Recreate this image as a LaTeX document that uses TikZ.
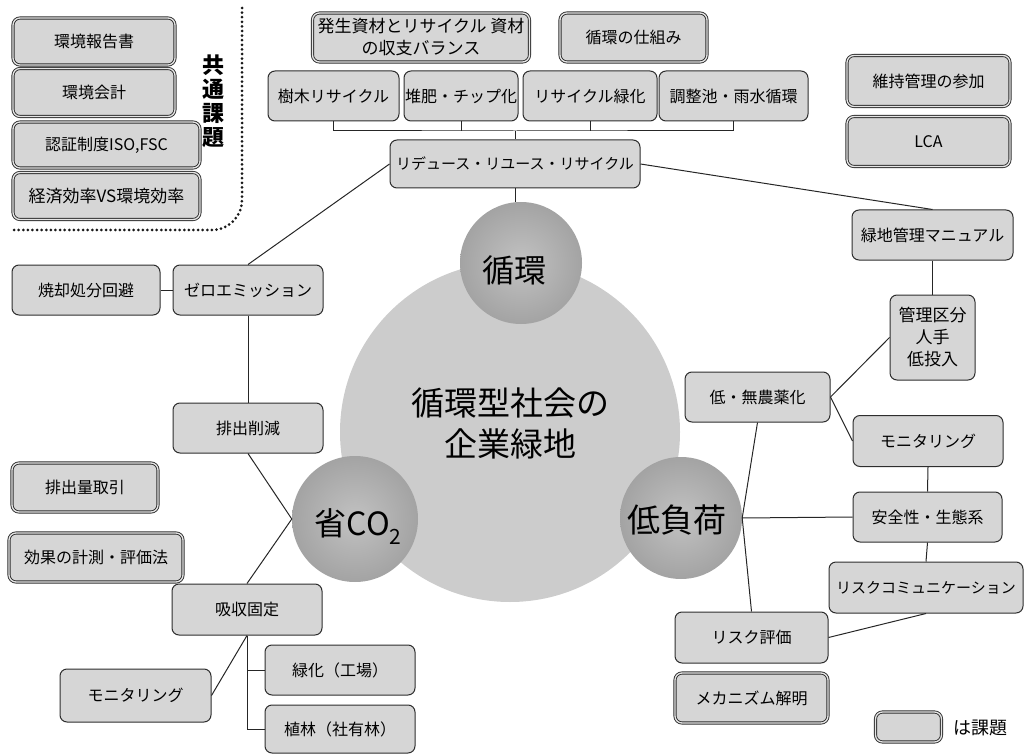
\documentclass[tikz,border=0pt]{standalone}
\usepackage{fontspec}
\setmainfont{Noto Sans CJK JP}
\begin{document}
\begin{tikzpicture}[x=1pt,y=-1pt,
  box/.style={draw=black!82, line width=1pt, fill=black!16, rounded corners=7pt, inner sep=1pt, align=center, font=\fontsize{16}{20}\selectfont},
  issue/.style={box, double=black!10, double distance=1.3pt, line width=0.9pt},
  conn/.style={draw=black!85, line width=1pt},
  blob/.style={circle, fill=black!20, inner sep=0pt},
  ball/.style={circle, inner sep=0pt, shade, inner color=black!24, outer color=black!36, font=\fontsize{32}{36}\selectfont}
]
\useasboundingbox (0,0) rectangle (1028,754);

% central blob and circles
\node[blob, minimum size=340pt] (core) at (510,432) {};
\fill[black!20] (521,263) -- (355,519) -- (681,518) -- cycle;
\node[ball, minimum size=122pt] (cyc) at (521,263) {};
\node[ball, minimum size=126pt] (co2) at (355,519) {};
\node[ball, minimum size=122pt] (low) at (681,518) {};
\node[font=\fontsize{33}{41}\selectfont, align=center] (title) at (510,423) {循環型社会の\\企業緑地};
\node[font=\fontsize{32}{36}\selectfont] (cyct) at (514,270) {循環};
\node[font=\fontsize{32}{36}\selectfont] (co2t) at (358,527) {省CO\raisebox{-9pt}{\fontsize{21}{21}\selectfont 2}};
\node[font=\fontsize{33}{36}\selectfont] (lowt) at (677,520) {低負荷};

% common issues (left top)
\node[issue, minimum width=162pt, minimum height=47pt] (rep) at (94,41.5) {環境報告書};
\node[issue, minimum width=162pt, minimum height=48pt] (acc) at (94,92.5) {環境会計};
\node[issue, minimum width=187pt, minimum height=46pt] (cert) at (106.5,145) {認証制度ISO,FSC};
\node[issue, minimum width=187pt, minimum height=47pt, font=\fontsize{17}{20}\selectfont] (eco) at (106.5,196) {経済効率VS環境効率};
\node[font=\fontsize{22}{24}\selectfont\bfseries, align=center] (common) at (213,101) {共\\通\\課\\題};
\coordinate (d1) at (242,8);
\coordinate (d2) at (242,230);
\coordinate (d3) at (10,230);
\draw[black!90, line width=3pt, line cap=round, dash pattern=on 0pt off 4.6pt, rounded corners=30pt] (d1) -- (d2) -- (d3);

% top
\node[issue, minimum width=217pt, minimum height=49pt, font=\fontsize{17}{22}\selectfont] (bal) at (421,37.5) {発生資材とリサイクル 資材\\の収支バランス};
\node[issue, minimum width=147pt, minimum height=49pt] (mech) at (633.5,37.5) {循環の仕組み};
\node[box, minimum width=131pt, minimum height=50pt] (tree) at (333.5,96) {樹木リサイクル};
\node[box, minimum width=114pt, minimum height=50pt] (comp) at (461,96) {堆肥・チップ化};
\node[box, minimum width=134pt, minimum height=50pt] (rgr) at (590,96) {リサイクル緑化};
\node[box, minimum width=149pt, minimum height=50pt] (pond) at (733.5,96) {調整池・雨水循環};
\node[box, minimum width=250pt, minimum height=48pt, font=\fontsize{15}{18}\selectfont] (rrr) at (515,164) {リデュース・リユース・リサイクル};
\coordinate (bus) at (515,131);
\draw[conn] (tree.south) |- (bus) -| (pond.south);
\draw[conn] (comp.south) -- (comp.south |- bus);
\draw[conn] (rgr.south) -- (rgr.south |- bus);
\draw[conn] (bus) -- (rrr.north);
\draw[conn] (rrr.south) -- (rrr.south |- cyc.north);

% right top issues
\node[issue, minimum width=163pt, minimum height=51pt] (part) at (928.5,81) {維持管理の参加};
\node[issue, minimum width=163pt, minimum height=50pt] (lca) at (928.5,141.5) {LCA};

% right side
\node[box, minimum width=161pt, minimum height=50pt] (manual) at (932.5,235) {緑地管理マニュアル};
\node[box, minimum width=85pt, minimum height=85pt, font=\fontsize{17}{22}\selectfont] (kanri) at (932.5,337.5) {管理区分\\人手\\低投入};
\node[box, minimum width=145pt, minimum height=50pt] (lowpest) at (757.5,397) {低・無農薬化};
\node[box, minimum width=150pt, minimum height=51pt] (monR) at (928,441) {モニタリング};
\node[box, minimum width=149pt, minimum height=50pt] (safe) at (927.5,517) {安全性・生態系};
\node[box, minimum width=194pt, minimum height=51pt, font=\fontsize{15}{18}\selectfont] (riskcom) at (926,587.5) {リスクコミュニケーション};
\node[box, minimum width=153pt, minimum height=51pt] (riskev) at (751.5,637.5) {リスク評価};
\node[issue, minimum width=153pt, minimum height=50pt] (mecha) at (751.5,698) {メカニズム解明};
\draw[conn] (rrr.east) -- (manual.north);
\draw[conn] (manual.south) -- (kanri.north);
\draw[conn] (lowpest.east) -- (kanri.west);
\draw[conn] (lowpest.east) -- (monR.west);
\draw[conn] (monR.south) -- (safe.north);
\draw[conn] (safe.south) -- (riskcom.north);
\draw[conn] (riskcom.south) -- (riskev.east);
\draw[conn] (lowpest.south) -- (low.east) -- (riskev.north);
\draw[conn] (low.east) -- (safe.west);

% legend
\node[issue, minimum width=66pt, minimum height=30pt] (leg) at (908.5,727) {};
\node[font=\fontsize{18}{20}\selectfont, anchor=west] (legt) at (950,728) {は課題};

% left side
\node[box, minimum width=148pt, minimum height=50pt] (inc) at (86,290) {焼却処分回避};
\node[box, minimum width=150pt, minimum height=50pt] (zero) at (248,290) {ゼロエミッション};
\node[box, minimum width=150pt, minimum height=50pt] (red) at (248,428) {排出削減};
\node[issue, minimum width=146pt, minimum height=49pt] (trade) at (85,487.5) {排出量取引};
\node[issue, minimum width=174pt, minimum height=49pt] (meas) at (96,557.5) {効果の計測・評価法};
\node[box, minimum width=150pt, minimum height=51pt] (abs) at (247,609.5) {吸収固定};
\node[box, minimum width=151pt, minimum height=53pt] (monL) at (135.5,695.5) {モニタリング};
\node[box, minimum width=150pt, minimum height=50pt] (green) at (340,670) {緑化（工場）};
\node[box, minimum width=150pt, minimum height=48pt] (plant) at (340,729) {植林（社有林）};
\draw[conn] (inc.east) -- (zero.west);
\draw[conn] (zero.north) -- (rrr.west);
\draw[conn] (zero.south) -- (red.north);
\draw[conn] (red.south) -- (co2.west) -- (abs.north);
\draw[conn] (abs.south) -- (monL.east);
\draw[conn] (abs.south) |- (plant.west);
\draw[conn] (abs.south |- green.west) -- (green.west);
\end{tikzpicture}
\end{document}
